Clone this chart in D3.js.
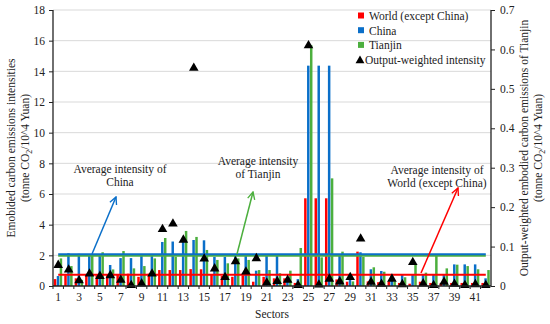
<!DOCTYPE html>
<html>
<head>
<meta charset="utf-8">
<script src="https://cdn.jsdelivr.net/npm/d3@7"></script>
<style>
  body { margin: 0; background: #fff; }
  text { font-family: "Liberation Serif", "DejaVu Serif", serif; fill: #222; }
</style>
</head>
<body>
<div id="chart"></div>
<script>
// sectors 1..42
const sectors = d3.range(1, 43);

// embodied carbon intensity (left axis)
const world = [0.45, 0.7, 0.5, 0.7, 0.7, 0.7, 0.75, 0.8, 0.6, 0.8,
  1.04, 1.04, 1.04, 1.1, 1.09, 0.75, 0.65, 0.6, 0.7, 0.28,
  0.6, 0.5, 0.5, 0.2, 5.72, 5.72, 5.72, 0.43, 0.28, 2.24,
  0.3, 0.25, 0.3, 0.2, 0.15, 0.28, 0.2, 0.2, 0.2, 0.2, 0.2, 0.2];
const china = [0.65, 2.13, 2.1, 2.05, 2.0, 1.37, 1.82, 1.82, 1.95, 1.95,
  2.87, 2.9, 2.9, 3.0, 2.98, 1.9, 1.9, 2.0, 1.95, 1.0,
  1.96, 1.96, 0.4, 0.45, 14.37, 14.37, 14.37, 1.96, 0.4, 2.2,
  1.09, 0.98, 0.65, 0.72, 0.72, 0.72, 0.78, 0.76, 1.41, 1.41, 1.41, 0.5];
const tianjin = [1.8, 1.3, 0.4, 2.0, 2.2, 1.08, 2.28, 1.15, 1.3, 1.8,
  3.13, 1.9, 3.59, 3.2, 2.35, 1.7, 1.48, 1.8, 1.7, 1.04,
  1.04, 0.83, 1.0, 2.48, 15.7, 1.87, 7.02, 2.24, 0.3, 1.9,
  1.22, 0.93, 0.3, 0.57, 1.37, 0.87, 2.02, 1.15, 1.39, 1.3, 1.09, 1.04];

// output-weighted intensity of Tianjin (right axis)
const weighted = [0.053, 0.041, 0.014, 0.031, 0.025, 0.027, 0.015, 0.002, 0.006, 0.031,
  0.144, 0.158, 0.117, 0.553, 0.069, 0.044, 0.022, 0.062, 0.036, 0.070,
  0.008, 0.012, 0.015, 0.002, 0.61, 0.003, 0.018, 0.011, 0.022, 0.12,
  0.01, 0.005, 0.018, 0.004, 0.06, 0.006, 0.002, 0.01, 0.005, 0.002, 0.004, 0.002];

// averages
const avgChina = 2.07;
const avgTianjin = 1.97;
const avgWorld = 0.73;

const leftTicks = d3.range(0, 19, 2);
const rightTicks = [0, 0.1, 0.2, 0.3, 0.4, 0.5, 0.6, 0.7];
const xLabels = sectors.filter(d => d % 2 === 1);

const seriesNames = ["World (except China)", "China", "Tianjin"];
const colors = ["#ff0000", "#0a6fc9", "#4caf3e"];

const width = 550, height = 324;
const margin = { top: 10, right: 59, bottom: 38, left: 53 };
const innerW = width - margin.left - margin.right;
const innerH = height - margin.top - margin.bottom;
const fs = 11.5;

const svg = d3.select("#chart").append("svg")
  .attr("width", width)
  .attr("height", height);

const g = svg.append("g")
  .attr("transform", "translate(" + margin.left + "," + margin.top + ")");

const x = d3.scaleBand().domain(sectors).range([0, innerW]);
const x1 = d3.scaleBand().domain([0, 1, 2])
  .range([x.bandwidth() * 0.08, x.bandwidth() * 0.88]).paddingInner(0.15);
const y = d3.scaleLinear().domain([0, 18]).range([innerH, 0]);
const y2 = d3.scaleLinear().domain([0, 0.7]).range([innerH, 0]);

// gridlines
g.append("g").selectAll("line")
  .data(leftTicks.slice(1))
  .enter().append("line")
  .attr("x1", 0).attr("x2", innerW)
  .attr("y1", d => y(d)).attr("y2", d => y(d))
  .attr("stroke", "#d9d9d9").attr("stroke-width", 1);

// bars
const rows = sectors.map((s, i) => ({ s: s, v: [world[i], china[i], tianjin[i]] }));
const grp = g.append("g").selectAll("g")
  .data(rows).enter().append("g")
  .attr("transform", d => "translate(" + x(d.s) + ",0)");
grp.selectAll("rect")
  .data(d => d.v.map((v, k) => ({ k: k, v: v })))
  .enter().append("rect")
  .attr("x", d => x1(d.k))
  .attr("width", x1.bandwidth())
  .attr("y", d => y(d.v))
  .attr("height", d => innerH - y(d.v))
  .attr("fill", d => colors[d.k]);

// average lines
const xc = d => x(d) + x.bandwidth() / 2;
[[avgWorld, colors[0]], [avgTianjin, colors[2]], [avgChina, colors[1]]].forEach(function(a) {
  g.append("line")
    .attr("x1", xc(sectors[0])).attr("x2", xc(sectors[sectors.length - 1]))
    .attr("y1", y(a[0])).attr("y2", y(a[0]))
    .attr("stroke", a[1]).attr("stroke-width", 2);
});

// triangles
g.append("g").selectAll("path")
  .data(weighted).enter().append("path")
  .attr("d", d3.symbol().type(d3.symbolTriangle).size(40))
  .attr("transform", (d, i) => "translate(" + xc(sectors[i]) + "," + y2(d) + ")")
  .attr("fill", "#000");

// axes
const yAxis = g.append("g")
  .call(d3.axisLeft(y).tickValues(leftTicks).tickSize(4).tickPadding(4));
const y2Axis = g.append("g")
  .attr("transform", "translate(" + innerW + ",0)")
  .call(d3.axisRight(y2).tickValues(rightTicks).tickSize(4).tickPadding(5)
    .tickFormat(d => d === 0 ? "0" : d3.format(".1f")(d)));
const xAxis = g.append("g")
  .attr("transform", "translate(0," + innerH + ")")
  .call(d3.axisBottom(x).tickValues(xLabels).tickSize(0).tickPadding(7));

[yAxis, y2Axis, xAxis].forEach(function(a) {
  a.select(".domain").attr("stroke", "#222").attr("stroke-width", 1.3);
  a.selectAll(".tick line").attr("stroke", "#222");
  a.selectAll("text").attr("font-size", fs).attr("font-family", "Liberation Serif").attr("fill", "#222");
});
yAxis.select(".domain").attr("d", "M0,0V" + innerH);
y2Axis.select(".domain").attr("d", "M0,0V" + innerH);
xAxis.select(".domain").attr("d", "M0,0H" + innerW);

// small ticks between sectors
xAxis.append("g").selectAll("line")
  .data(sectors).enter().append("line")
  .attr("x1", d => x(d)).attr("x2", d => x(d))
  .attr("y1", 0).attr("y2", 3)
  .attr("stroke", "#222");

// axis titles
svg.append("text")
  .attr("x", margin.left + innerW / 2).attr("y", 318)
  .attr("text-anchor", "middle").attr("font-size", fs)
  .text("Sectors");

const lt = svg.append("text")
  .attr("transform", "translate(15," + (margin.top + innerH / 2) + ") rotate(-90)")
  .attr("text-anchor", "middle").attr("font-size", fs);
lt.append("tspan").attr("x", 0).attr("dy", 0).text("Emobided carbon emissions intensities");
lt.append("tspan").attr("x", 0).attr("dy", 14).text("(tonne CO");
lt.append("tspan").attr("font-size", 8).attr("dy", 3).text("2");
lt.append("tspan").attr("dy", -3).text("/10^4 Yuan)");

const rt = svg.append("text")
  .attr("transform", "translate(528," + (margin.top + innerH / 2) + ") rotate(-90)")
  .attr("text-anchor", "middle").attr("font-size", fs);
rt.append("tspan").attr("x", 0).attr("dy", 0).text("Output-weighted embodied carbon emissions of Tianjin");
rt.append("tspan").attr("x", 0).attr("dy", 14).text("(tonne CO");
rt.append("tspan").attr("font-size", 8).attr("dy", 3).text("2");
rt.append("tspan").attr("dy", -3).text("/10^4 Yuan)");

// legend
const legend = svg.append("g").attr("transform", "translate(358,16)");
seriesNames.forEach(function(n, i) {
  legend.append("rect")
    .attr("x", 0).attr("y", i * 14.7 - 3.5).attr("width", 6).attr("height", 6)
    .attr("fill", colors[i]);
  legend.append("text")
    .attr("x", 11).attr("y", i * 14.7 + 4).attr("font-size", fs)
    .text(n);
});
legend.append("path")
  .attr("d", d3.symbol().type(d3.symbolTriangle).size(34))
  .attr("transform", "translate(2," + (3 * 14.7 + 0.5) + ")")
  .attr("fill", "#000");
legend.append("text")
  .attr("x", 7).attr("y", 3 * 14.7 + 4).attr("font-size", fs)
  .text("Output-weighted intensity");

// annotations with arrows
const defs = svg.append("defs");
colors.forEach(function(c, i) {
  defs.append("marker")
    .attr("id", "arr" + i)
    .attr("viewBox", "0 0 10 10").attr("refX", 9).attr("refY", 5)
    .attr("markerWidth", 6).attr("markerHeight", 6).attr("orient", "auto")
    .append("path").attr("d", "M1,1L9,5L1,9").attr("fill", "none")
    .attr("stroke", c).attr("stroke-width", 1.5);
});

const notes = [
  { lines: ["Average intensity of", "China"], cx: 120, y0: 169, from: [92, 254], to: [116, 197], k: 1 },
  { lines: ["Average intensity", "of Tianjin"], cx: 258, y0: 161, from: [237, 254], to: [253, 192], k: 2 },
  { lines: ["Average intensity of", "World (except China)"], cx: 437, y0: 170, from: [421, 273], to: [458, 188], k: 0 }
];
notes.forEach(function(n) {
  n.lines.forEach(function(l, j) {
    svg.append("text")
      .attr("x", n.cx).attr("y", n.y0 + j * 12.7 + 4)
      .attr("text-anchor", "middle").attr("font-size", fs)
      .text(l);
  });
  svg.append("line")
    .attr("x1", n.from[0]).attr("y1", n.from[1])
    .attr("x2", n.to[0]).attr("y2", n.to[1])
    .attr("stroke", colors[n.k]).attr("stroke-width", 1.5)
    .attr("marker-end", "url(#arr" + n.k + ")");
});
</script>
</body>
</html>
